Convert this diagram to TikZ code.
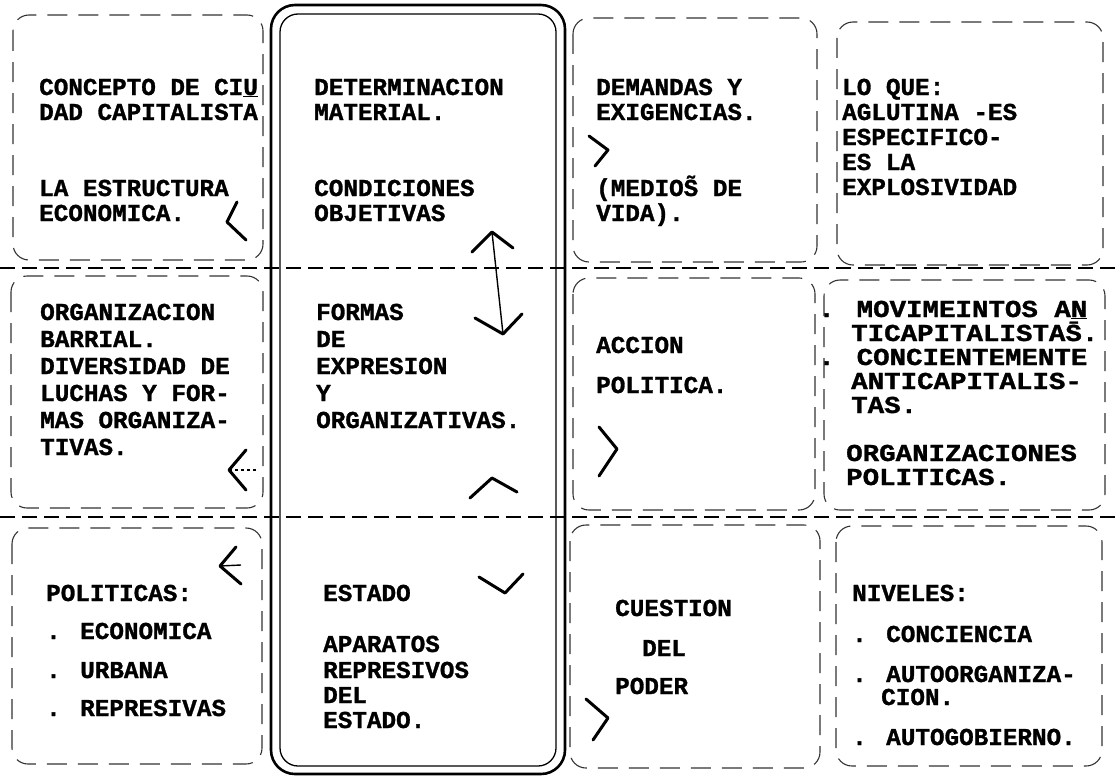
\documentclass[tikz,border=0pt]{standalone}
\usepackage{fontspec}
\newfontfamily\twfont{Liberation Mono}[FakeBold=1.2]
\newcommand\tyl[4]{\node[tw] (#1) at (#2,{#3+7}) {#4};}
\newcommand\wyl[4]{\node[tw] (#1) at (#2,{#3+7}) {\scalebox{1.13}[1]{#4}};}
\begin{document}
\begin{tikzpicture}[x=1pt,y=-1pt,
  tw/.style={font=\twfont\bfseries\fontsize{24.3}{25}\selectfont, inner sep=0pt, anchor=base west},
  dbox/.style={draw=black!80, line width=1.1pt, rounded corners=16pt, dash pattern=on 20pt off 11pt},
  sep/.style={draw, line width=1.8pt, dash pattern=on 15pt off 7pt},
  chev/.style={draw, line width=3pt, line cap=round, line join=round},
  stem/.style={draw, line width=1.4pt},
  wall/.style={draw, line width=2.6pt, rounded corners=24pt},
  wallin/.style={draw, line width=1.3pt, rounded corners=18pt}]
\useasboundingbox (0,0) rectangle (1115,776);

% row separators
\draw[sep] (0,268) -- (1115,268);
\draw[sep] (0,517) -- (1115,517);

% dashed boxes
\draw[dbox] (13,15) rectangle (263,260);
\draw[dbox] (573,18) rectangle (817,262);
\draw[dbox] (837,22) rectangle (1103,265);
\draw[dbox] (11,276) rectangle (263,508);
\draw[dbox] (573,278) rectangle (815,510);
\draw[dbox] (824,280) rectangle (1105,510);
\draw[dbox] (12,528) rectangle (262,764);
\draw[dbox] (570,525) rectangle (820,768);
\draw[dbox] (836,526) rectangle (1102,766);

% central double-walled box
\draw[wall] (271,5) rectangle (565,774);
\draw[wallin] (280,14) rectangle (556,766);

% ---- row 1 texts
\tyl{a1}{39}{88}{CONCEPTO DE CI\underline{U}}
\tyl{a2}{39}{113}{DAD CAPITALISTA}
\tyl{a3}{39}{189}{LA ESTRUCTURA}
\tyl{a4}{39}{214}{ECONOMICA.}
\tyl{b1}{314}{88}{DETERMINACION}
\tyl{b2}{314}{113}{MATERIAL.}
\tyl{b3}{314}{189}{CONDICIONES}
\tyl{b4}{314}{214}{OBJETIVAS}
\tyl{c1}{596}{88}{DEMANDAS Y}
\tyl{c2}{596}{113}{EXIGENCIAS.}
\tyl{c3}{596}{189}{(MEDIO\~{S} DE}
\tyl{c4}{596}{214}{VIDA).}
\tyl{d1}{842}{88}{LO QUE:}
\tyl{d2}{842}{113}{AGLUTINA -ES}
\tyl{d3}{842}{138}{ESPECIFICO-}
\tyl{d4}{842}{163}{ES LA}
\tyl{d5}{842}{188}{EXPLOSIVIDAD}

% ---- row 2 texts
\tyl{e1}{40}{313}{ORGANIZACION}
\tyl{e2}{40}{340}{BARRIAL.}
\tyl{e3}{40}{367}{DIVERSIDAD DE}
\tyl{e4}{40}{394}{LUCHAS Y FOR-}
\tyl{e5}{40}{421}{MAS ORGANIZA-}
\tyl{e6}{40}{448}{TIVAS.}
\tyl{f1}{316}{313}{FORMAS}
\tyl{f2}{316}{340}{DE}
\tyl{f3}{316}{367}{EXPRESION}
\tyl{f4}{316}{394}{Y}
\tyl{f5}{316}{421}{ORGANIZATIVAS.}
\tyl{g1}{596}{346}{ACCION}
\tyl{g2}{596}{386}{POLITICA.}
\wyl{h1}{818}{310}{. MOVIMEINTOS A\underline{N}}
\wyl{h2}{851}{334}{TICAPITALISTA\={S}.}
\wyl{h3}{818}{358}{. CONCIENTEMENTE}
\wyl{h4}{851}{382}{ANTICAPITALIS-}
\wyl{h5}{851}{406}{TAS.}
\wyl{h6}{846}{454}{ORGANIZACIONES}
\wyl{h7}{846}{478}{POLITICAS.}

% ---- row 3 texts
\tyl{i1}{46}{594}{POLITICAS:}
\tyl{i2}{46}{632}{. ECONOMICA}
\tyl{i3}{46}{671}{. URBANA}
\tyl{i4}{46}{709}{. REPRESIVAS}
\tyl{j1}{323}{594}{ESTADO}
\tyl{j2}{323}{645}{APARATOS}
\tyl{j3}{323}{671}{REPRESIVOS}
\tyl{j4}{323}{696}{DEL}
\tyl{j5}{323}{721}{ESTADO.}
\tyl{k1}{615}{609}{CUESTION}
\tyl{k2}{642}{649}{DEL}
\tyl{k3}{615}{687}{PODER}
\tyl{l1}{852}{594}{NIVELES:}
\tyl{l2}{852}{635}{. CONCIENCIA}
\tyl{l3}{852}{675}{. AUTOORGANIZA-}
\tyl{l4}{881}{698}{CION.}
\tyl{l5}{852}{738}{. AUTOGOBIERNO.}

% ---- chevrons
% row 1
\draw[chev] (237,202) -- (227,222) -- (246,240);
\coordinate (up1) at (492,232);
\coordinate (dn1) at (503,334);
\draw[chev] (472,252) -- (up1) -- (513,248);
\draw[stem] (up1) -- (dn1);
\draw[chev] (589,136) -- (608,150) -- (595,166);
% row 2
\draw[chev] (475,318) -- (dn1) -- (522,314);
\coordinate (lt2) at (229,470);
\coordinate (lt2e) at (258,470);
\draw[chev] (246,450) -- (lt2) -- (246,490);
\draw[stem, dashed] (lt2) -- (lt2e);
\draw[chev] (470,498) -- (492,478) -- (517,492);
\draw[chev] (599,427) -- (617,449) -- (599,476);
% row 3
\coordinate (lt3) at (220,566);
\coordinate (lt3e) at (241,565);
\draw[chev] (236,547) -- (lt3) -- (241,584);
\draw[stem] (lt3) -- (lt3e);
\draw[chev] (479,577) -- (505,593) -- (523,574);
\draw[chev] (586,699) -- (608,718) -- (593,740);
\end{tikzpicture}
\end{document}
